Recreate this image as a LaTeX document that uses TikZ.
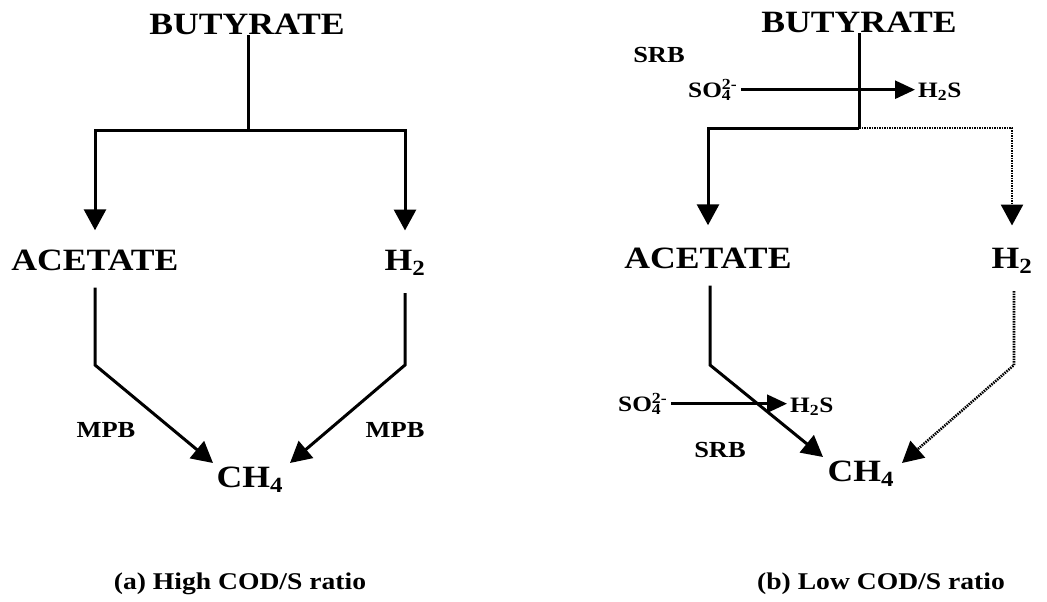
\documentclass[tikz,border=0pt]{standalone}
\usepackage{fontspec}
\setmainfont{Liberation Serif}
\usetikzlibrary{arrows.meta}
\newcommand{\sx}[1]{\scalebox{1.15}[1]{#1}}
\begin{document}
\begin{tikzpicture}[x=1pt,y=-1pt,
  big/.style={font=\fontsize{31}{31}\selectfont\bfseries, inner sep=0pt, anchor=base},
  small/.style={font=\fontsize{23}{23}\selectfont\bfseries, inner sep=0pt, anchor=base},
  chem/.style={font=\fontsize{22}{22}\selectfont\bfseries, inner sep=0pt, anchor=base west},
  capt/.style={font=\fontsize{24}{24}\selectfont\bfseries, inner sep=0pt, anchor=base},
  ln/.style={line width=3pt},
  flow/.style={line width=3pt, -{Triangle[length=21pt,width=22pt]}},
  flowdot/.style={line width=2.6pt, dash pattern=on 1.5pt off 1pt, -{Triangle[length=21pt,width=22pt]}},
  sflow/.style={line width=2.6pt, -{Triangle[length=20pt,width=18pt]}}]
\useasboundingbox (0,0) rectangle (1047,602);
\fill[white] (0,0) rectangle (1047,602);

% ---------- panel (a) ----------
\node[big] (but1) at (247,35) {\sx{BUTYRATE}};
\node[big] (ac1) at (95,270) {\sx{ACETATE}};
\node[big] (h1) at (405,270) {\sx{H\textsubscript{2}}};
\node[big] (ch1) at (250,487) {\sx{CH\textsubscript{4}}};
\node[small] (mpb1) at (106,437) {\sx{MPB}};
\node[small] (mpb2) at (395,437) {\sx{MPB}};
\node[capt] (capa) at (240,589) {\sx{(a) High COD/S ratio}};

\coordinate (j1) at (248,130);
\coordinate (k1) at (95,365);
\coordinate (k2) at (405,365);
\coordinate (t1) at (213,463);
\coordinate (t2) at (290,463);
\draw[ln] (but1.south -| j1) -- (j1);
\draw[flow, shorten >=19pt] (j1) -| (ac1.north);
\draw[flow, shorten >=19pt] (j1) -| (h1.north);
\draw[flow, shorten <=17pt] (ac1.south -| k1) -- (k1) -- (t1);
\draw[flow, shorten <=17pt] (h1.south -| k2) -- (k2) -- (t2);

% ---------- panel (b) ----------
\node[big] (but2) at (859,33) {\sx{BUTYRATE}};
\node[small] (srb1) at (659,63) {\sx{SRB}};
\node[chem] (so1) at (688,97) {\sx{SO\rlap{\textsubscript{4}}\textsuperscript{2-}}};
\node[chem] (hs1) at (918,97) {\sx{H\textsubscript{2}S}};
\node[big] (ac2) at (708,268) {\sx{ACETATE}};
\node[big] (h2) at (1012,268) {\sx{H\textsubscript{2}}};
\node[chem] (so2) at (618,411) {\sx{SO\rlap{\textsubscript{4}}\textsuperscript{2-}}};
\node[chem] (hs2) at (790,412) {\sx{H\textsubscript{2}S}};
\node[small] (srb2) at (720,457) {\sx{SRB}};
\node[big] (ch2) at (861,481) {\sx{CH\textsubscript{4}}};
\node[capt] (capb) at (881,589) {\sx{(b) Low COD/S ratio}};

\coordinate (j2) at (859,128);
\coordinate (k3) at (710,365);
\coordinate (k4) at (1014,365);
\coordinate (t3) at (823,457);
\coordinate (t4) at (902,463);
\draw[ln] (but2.south -| j2) -- (j2);
\draw[flow, shorten >=22pt] (j2) -| (ac2.north);
\draw[flowdot, shorten >=22pt] (j2) -| (h2.north);
\draw[flow, shorten <=17pt] (ac2.south -| k3) -- (k3) -- (t3);
\draw[flowdot, shorten <=17pt] (h2.south -| k4) -- (k4) -- (t4);
\draw[sflow, shorten <=4pt, shorten >=3pt] (so1.east) -- (so1.east -| hs1.west);
\draw[sflow, shorten <=4pt, shorten >=3pt] (so2.east) -- (so2.east -| hs2.west);
\end{tikzpicture}
\end{document}
